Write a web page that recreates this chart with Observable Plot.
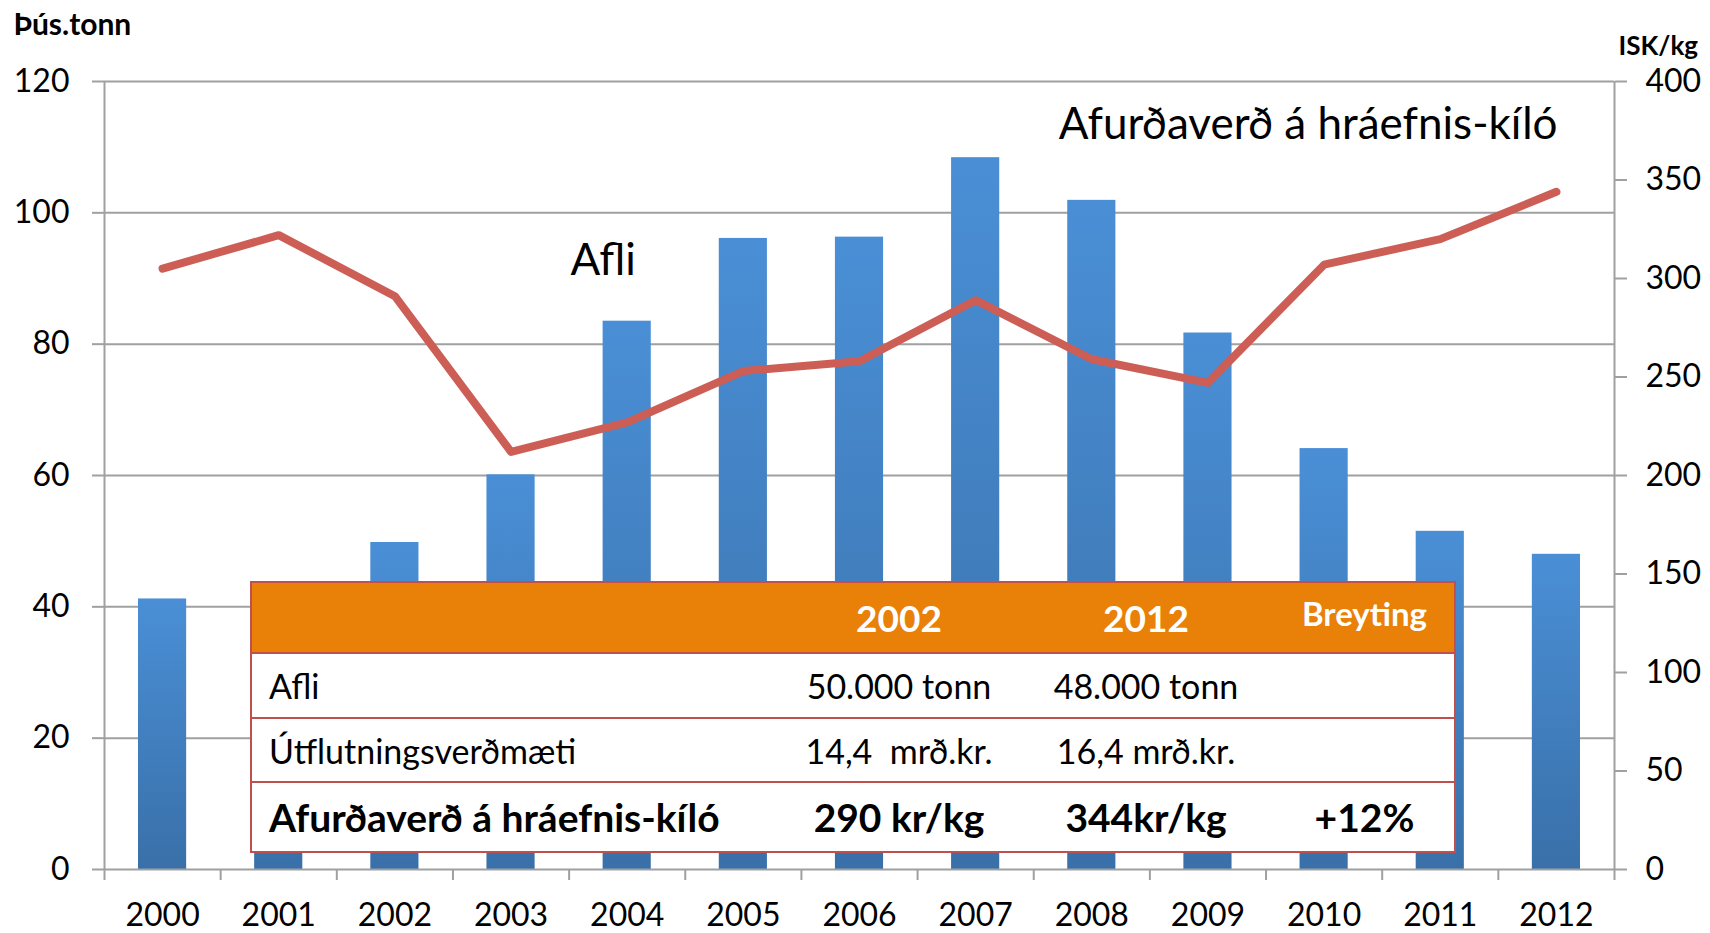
<!DOCTYPE html>
<html>
<head>
<meta charset="utf-8">
<script src="https://cdn.jsdelivr.net/npm/d3@7"></script>
<script src="https://cdn.jsdelivr.net/npm/@observablehq/plot@0.6"></script>
<style>
  html, body { margin: 0; padding: 0; background: #fff; }
  #wrap { position: relative; width: 1710px; height: 933px; font-family: Lato, "Open Sans", sans-serif; }
  #tbl { position: absolute; left: 250px; top: 581px; width: 1204px; height: 270px; border-collapse: collapse; font-family: Lato, sans-serif; color: #000; background: #fff; table-layout: fixed; }
  #tbl td { border-top: 2px solid #C0504D; padding: 0; white-space: nowrap; }
  #tbl { border: 2px solid #C0504D; }
  #tbl tr.hdr td { background: #E98008; color: #fff; font-weight: bold; border-top: none; }
</style>
</head>
<body>
<div id="wrap"></div>
<script>
// ---- data ----
const years = [2000, 2001, 2002, 2003, 2004, 2005, 2006, 2007, 2008, 2009, 2010, 2011, 2012];
const catch_kt = [41.2, 40, 49.8, 60.1, 83.5, 96.1, 96.3, 108.4, 101.9, 81.7, 64.1, 51.5, 48.0];
const price_isk = [305, 322, 291, 212, 227, 253, 258, 289, 259, 247, 307, 320, 344];
const leftTicks = [0, 20, 40, 60, 80, 100, 120];
const rightTicks = [0, 50, 100, 150, 200, 250, 300, 350, 400];
const leftUnit = "Þús.tonn";
const rightUnit = "ISK/kg";
const annoLabels = ["Afli", "Afurðaverð á hráefnis-kíló"];
const annoYears = [2004, 2010];
const annoValues = [92.7, 113.4];
const tableHeader = ["", "2002", "2012", "Breyting"];
const tableRows = [
  ["Afli", "50.000 tonn", "48.000 tonn", ""],
  ["Útflutningsverðmæti", "14,4\u00a0 mrð.kr.", "16,4 mrð.kr.", ""],
  ["Afurðaverð á hráefnis-kíló", "290 kr/kg", "344kr/kg", "+12%"]
];

const leftMax = 120, rightMax = 400;
const k = leftMax / rightMax;
const rows = years.map((y, i) => ({year: y, catch: catch_kt[i], price: price_isk[i]}));
const bounds = d3.range(years[0] - 0.5, years[years.length - 1] + 1, 1);

const grid = "#A0A0A0";
const chart = Plot.plot({
  width: 1710,
  height: 933,
  marginLeft: 104,
  marginRight: 96,
  marginTop: 81,
  marginBottom: 64,
  x: {type: "linear", domain: [bounds[0], bounds[bounds.length - 1]]},
  y: {domain: [0, leftMax]},
  style: {fontFamily: "Lato, sans-serif", fontSize: "32px", color: "#000", background: "#fff"},
  marks: [
    Plot.ruleY(leftTicks.filter(d => d > 0), {stroke: grid, strokeWidth: 2}),
    Plot.rectY(rows, {x1: d => d.year - 0.5, x2: d => d.year + 0.5, y: "catch", insetLeft: 34, insetRight: 34, fill: "url(#barGrad)"}),
    Plot.ruleY([0], {stroke: grid, strokeWidth: 2}),
    Plot.ruleX([bounds[0], bounds[bounds.length - 1]], {stroke: grid, strokeWidth: 2}),
    Plot.axisY(leftTicks, {anchor: "left", tickSize: 12, tickPadding: 23, stroke: grid, strokeWidth: 2, label: null, fontSize: 32}),
    Plot.axisY(rightTicks.map(v => v * k), {anchor: "right", tickSize: 12, tickPadding: 19, stroke: grid, strokeWidth: 2, label: null, fontSize: 32, tickFormat: v => String(Math.round(v / k)), textAnchor: "start"}),
    Plot.axisX(bounds, {anchor: "bottom", tickSize: 11, tickFormat: () => "", stroke: grid, strokeWidth: 2, label: null}),
    Plot.axisX(years, {anchor: "bottom", tickSize: 0, tickPadding: 34, tickFormat: d => String(d), label: null, fontSize: 32}),
    Plot.line(rows, {x: "year", y: d => d.price * k, stroke: "#CC5E56", strokeWidth: 8, strokeLinecap: "round", strokeLinejoin: "round"}),
    Plot.text([0], {x: annoYears[0], y: annoValues[0], text: [annoLabels[0]], dx: -24, fontSize: 44, fill: "#000"}),
    Plot.text([0], {x: annoYears[1], y: annoValues[1], text: [annoLabels[1]], dx: -16, fontSize: 44, fill: "#000"}),
    Plot.text([leftUnit], {frameAnchor: "top-left", dx: -91, dy: -68, textAnchor: "start", fontWeight: "bold", fontSize: 30, lineAnchor: "top"}),
    Plot.text([rightUnit], {frameAnchor: "top-right", dx: 4, dy: -45, textAnchor: "start", fontWeight: "bold", fontSize: 26, lineAnchor: "top"})
  ]
});

// gradient for bars
const svg = d3.select(chart);
const defs = svg.insert("defs", ":first-child");
const g = defs.append("linearGradient").attr("id", "barGrad").attr("x1", 0).attr("y1", 0).attr("x2", 0).attr("y2", 1);
g.append("stop").attr("offset", "0%").attr("stop-color", "#4A8FD6");
g.append("stop").attr("offset", "100%").attr("stop-color", "#3970A9");

document.getElementById("wrap").appendChild(chart);

// overlay table
const tbl = d3.select("#wrap").append("table").attr("id", "tbl");
const colg = tbl.append("colgroup");
[530, 236, 258, 180].forEach(w => colg.append("col").style("width", w + "px"));
const hdr = tbl.append("tr").attr("class", "hdr").style("height", "71px");
tableHeader.forEach((t, j) => hdr.append("td").text(t)
  .style("text-align", j === 0 ? "left" : "center")
  .style("font-size", j === 3 ? "33px" : "37px")
  .style("vertical-align", j === 3 ? "top" : "middle")
  .style("padding-top", j === 3 ? "10px" : "0px"));
const rowH = [65, 64, 70];
tableRows.forEach((r, i) => {
  const tr = tbl.append("tr").style("height", rowH[i] + "px");
  r.forEach((t, j) => tr.append("td").text(t)
    .style("text-align", j === 0 ? "left" : "center")
    .style("padding-left", j === 0 ? "17px" : "0px")
    .style("font-size", i === 2 ? "39px" : "34px")
    .style("font-weight", i === 2 ? "bold" : "normal"));
});
</script>
</body>
</html>
